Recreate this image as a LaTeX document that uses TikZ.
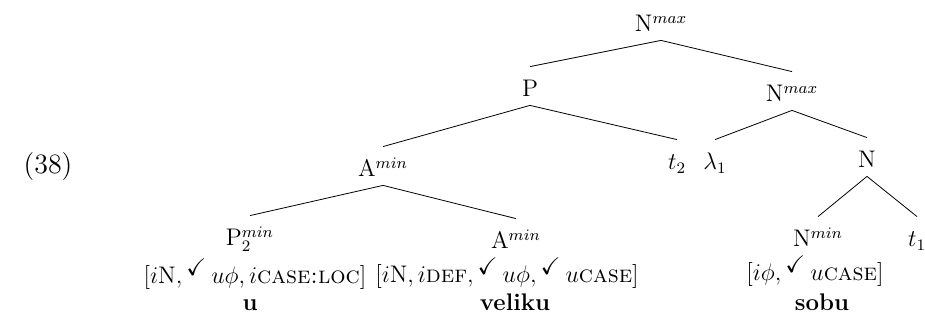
\documentclass[tikz,border=0pt]{standalone}
\usepackage{amssymb}

\newcommand{\chk}{{}^{\scriptscriptstyle\checkmark}\,}

\begin{document}
\begin{tikzpicture}[x=0.5pt,y=-0.5pt,font=\fontsize{12}{14.5}\selectfont]
\tikzset{cat/.style={anchor=base,inner sep=2pt,text height=13pt,text depth=2pt},
  feat/.style={anchor=base,inner sep=1pt}}
\useasboundingbox (0,0) rectangle (925,324);

\node[font=\fontsize{14}{16}\selectfont] (ex) at (48,167) {(38)};

\node[cat] (nmax) at (661,32) {N$^{max}$};
\node[cat] (p) at (530,97) {P};
\node[cat] (nmaxb) at (792,102) {N$^{max}$};
\node[cat] (amin) at (383,177) {A$^{min}$};
\node[cat] (t2) at (677,170) {$t_2$};
\node[cat] (lam) at (715,170) {$\lambda_1$};
\node[cat] (n) at (867,168) {N};
\node[cat] (pmin) at (250,246) {P$_2^{min}$};
\node[cat] (aminb) at (516,249) {A$^{min}$};
\node[cat] (nmin) at (818,247) {N$^{min}$};
\node[cat] (t1) at (917,247) {$t_1$};

\node[feat] (fp) at (255,284) {$[i\mathrm{N},\chk u\phi,i\textsc{case:loc}]$};
\node[feat] (fa) at (507,283) {$[i\mathrm{N},i\textsc{def},\chk u\phi,\chk u\textsc{case}]$};
\node[feat] (fn) at (815,281) {$[i\phi,\chk u\textsc{case}]$};

\node[feat] (wu) at (250,311) {\textbf{u}};
\node[feat] (wv) at (515,311) {\textbf{veliku}};
\node[feat] (ws) at (822,311) {\textbf{sobu}};

\draw (nmax.south) -- (p.north);
\draw (nmax.south) -- (nmaxb.north);
\draw (p.south) -- (amin.north);
\draw (p.south) -- (t2.north);
\draw (nmaxb.south) -- (lam.north);
\draw (nmaxb.south) -- (n.north);
\draw (amin.south) -- (pmin.north);
\draw (amin.south) -- (aminb.north);
\draw (n.south) -- (nmin.north);
\draw (n.south) -- (t1.north);

\end{tikzpicture}
\end{document}
